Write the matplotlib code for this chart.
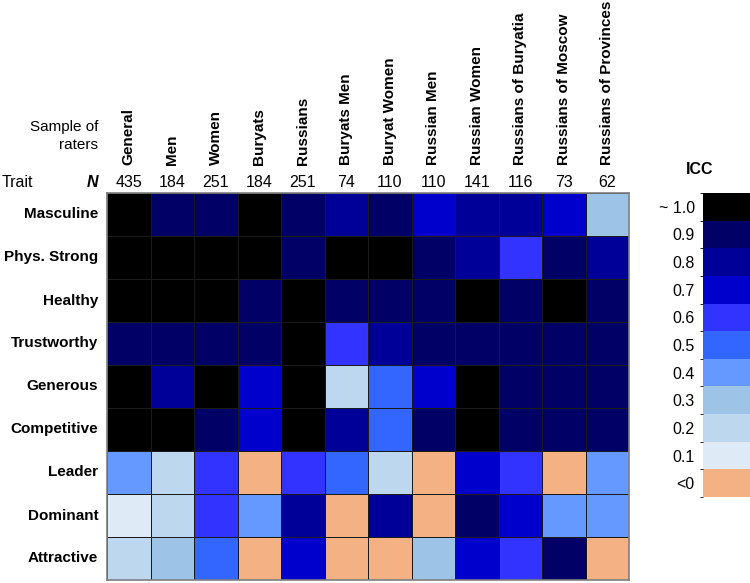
import numpy as np
import matplotlib
matplotlib.use('Agg')
import matplotlib.pyplot as plt
from matplotlib.colors import ListedColormap, BoundaryNorm

plt.rcParams['font.family'] = ['Liberation Sans', 'DejaVu Sans']

# Dane: grupy oceniających, liczebności, cechy i przybliżone ICC (-0.1 oznacza <0)
samples = ['General', 'Men', 'Women', 'Buryats', 'Russians', 'Buryats Men',
           'Buryat Women', 'Russian Men', 'Russian Women', 'Russians of Buryatia',
           'Russians of Moscow', 'Russians of Provinces']
n_raters = [435, 184, 251, 184, 251, 74, 110, 110, 141, 116, 73, 62]
traits = ['Masculine', 'Phys. Strong', 'Healthy', 'Trustworthy', 'Generous',
          'Competitive', 'Leader', 'Dominant', 'Attractive']

icc_masculine = [1.0, 0.9, 0.9, 1.0, 0.9, 0.8, 0.9, 0.7, 0.8, 0.8, 0.7, 0.3]
icc_strong = [1.0, 1.0, 1.0, 1.0, 0.9, 1.0, 1.0, 0.9, 0.8, 0.6, 0.9, 0.8]
icc_healthy = [1.0, 1.0, 1.0, 0.9, 1.0, 0.9, 0.9, 0.9, 1.0, 0.9, 1.0, 0.9]
icc_trustworthy = [0.9, 0.9, 0.9, 0.9, 1.0, 0.6, 0.8, 0.9, 0.9, 0.9, 0.9, 0.9]
icc_generous = [1.0, 0.8, 1.0, 0.7, 1.0, 0.2, 0.5, 0.7, 1.0, 0.9, 0.9, 0.9]
icc_competitive = [1.0, 1.0, 0.9, 0.7, 1.0, 0.8, 0.5, 0.9, 1.0, 0.9, 0.9, 0.9]
icc_leader = [0.4, 0.2, 0.6, -0.1, 0.6, 0.5, 0.2, -0.1, 0.7, 0.6, -0.1, 0.4]
icc_dominant = [0.1, 0.2, 0.6, 0.4, 0.8, -0.1, 0.8, -0.1, 0.9, 0.7, 0.4, 0.4]
icc_attractive = [0.2, 0.3, 0.5, -0.1, 0.7, -0.1, -0.1, 0.3, 0.7, 0.6, 0.9, -0.1]

legend_labels = ['<0', '0.1', '0.2', '0.3', '0.4', '0.5', '0.6', '0.7', '0.8', '0.9', '~ 1.0']
legend_colors = ['#F4B183', '#DEEBF7', '#BDD7EE', '#9DC3E6', '#6699FF', '#3366FF',
                 '#3333FF', '#0000CC', '#000099', '#000066', '#000000']

icc = np.array([icc_masculine, icc_strong, icc_healthy, icc_trustworthy, icc_generous,
                icc_competitive, icc_leader, icc_dominant, icc_attractive])
# klasa koloru: 0 dla <0, potem co 0.1
klasy = np.digitize(icc, np.arange(0.05, 1.0, 0.1))

cmap = ListedColormap(legend_colors)
norm = BoundaryNorm(np.arange(-0.5, 11.5), cmap.N)

fig = plt.figure(figsize=(7.5, 5.83), dpi=100)
ax = fig.add_axes([107 / 750, 1 - 580 / 583, 522 / 750, 387 / 583])
mesh = ax.pcolormesh(klasy, cmap=cmap, norm=norm, edgecolors='#1a1a1a', linewidth=0.7)
ax.set_xlim(0, len(samples))
ax.set_ylim(len(traits), 0)
ax.set_xticks([])
ax.set_yticks([])
for s in ax.spines.values():
    s.set_color('#7f7f7f')
    s.set_linewidth(1.2)

# nagłówki kolumn i liczebności
tx = ax.get_xaxis_transform()
for i, (name, n) in enumerate(zip(samples, n_raters)):
    ax.text(i + 0.5, 1.072, name, rotation=90, ha='center', va='bottom',
            fontsize=11, fontweight='bold', transform=tx)
    ax.text(i + 0.5, 1.026, str(n), ha='center', va='center', fontsize=11.5, transform=tx)

# etykiety wierszy
ty = ax.get_yaxis_transform()
for j, t in enumerate(traits):
    ax.text(-0.017, j + 0.5, t, ha='right', va='center', fontsize=11,
            fontweight='bold', transform=ty)

ax.text(-0.017, 1.147, 'Sample of\nraters', ha='right', va='center', fontsize=11,
        multialignment='right', transform=ax.transAxes, linespacing=1.3)
ax.text(-0.201, 1.026, 'Trait', ha='left', va='center', fontsize=11.5, transform=ax.transAxes)
ax.text(-0.017, 1.026, 'N', ha='right', va='center', fontsize=11.5, fontweight='bold',
        fontstyle='italic', transform=ax.transAxes)

# legenda ICC
cax = fig.add_axes([703 / 750, 1 - 497 / 583, 47 / 750, 304 / 583])
cb = fig.colorbar(mesh, cax=cax, ticks=np.arange(11))
cb.ax.set_yticklabels(legend_labels)
cb.ax.yaxis.set_ticks_position('left')
cb.ax.tick_params(length=0, pad=6, labelsize=11.5)
cb.outline.set_visible(False)
fig.text(700 / 750, 1 - 170 / 583, 'ICC', ha='center', va='center', fontsize=11.5,
         fontweight='bold')

fig.savefig('out.png', dpi=100)
